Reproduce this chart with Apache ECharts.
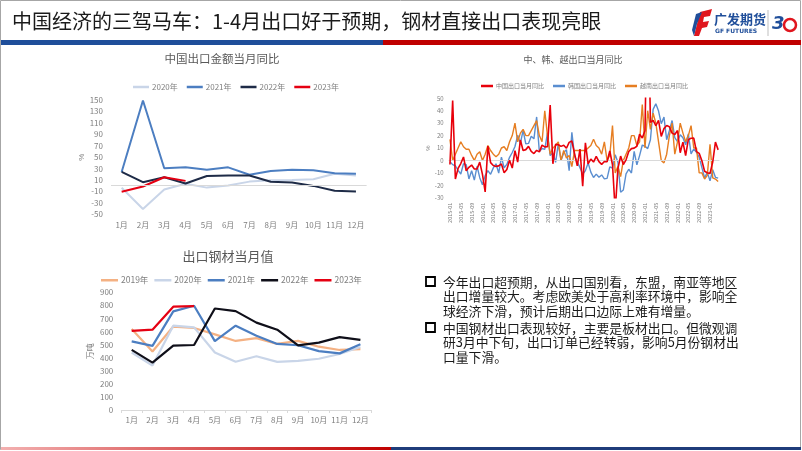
<!DOCTYPE html>
<html><head><meta charset="utf-8">
<script src="https://cdn.jsdelivr.net/npm/echarts@6/dist/echarts.min.js"></script>
<style>html,body{margin:0;padding:0;background:#fff}#c{width:802px;height:451px}</style>
</head><body><div id="c"></div>
<script>
// ---------- Chart 1: 中国出口金额当月同比 ----------
const months = ['1月','2月','3月','4月','5月','6月','7月','8月','9月','10月','11月','12月'];
const exp2020 = [-3.5,-40.6,-6.6,3.5,-3.3,0.5,7.2,9.5,9.9,11.4,21.1,18.1];
const exp2021 = [24.0,149,30.6,32.3,27.9,32.2,19.3,25.6,28.1,27.1,22.0,20.9];
const exp2022 = [24.1,6.2,14.7,3.9,16.9,17.9,18.0,7.1,5.7,-0.3,-8.7,-9.9];
const exp2023 = [-10.5,-1.3,14.8,8.5];

// ---------- Chart 2: 出口钢材当月值 (万吨) ----------
const steel2019 = [619,447,638,627,578,528,550,505,529,484,459,466];
const steel2020 = [440,340,645,632,440,369,411,368,376,392,428,482];
const steel2021 = [525,490,754,797,527,645,567,505,495,450,433,502];
const steel2022 = [460,362,492,497,776,756,668,614,494,515,557,536];
const steel2023 = [605,614,790,794];

// ---------- Chart 3: 中、韩、越出口当月同比 ----------
const ymLabels = [];
for (let y = 2015; y <= 2023; y++) for (let m = 1; m <= 12; m++) {
  if (y === 2023 && m > 4) break;
  ymLabels.push(y + '-' + (m < 10 ? '0' + m : '' + m));
}
const chinaYoY = [
 -3.3,48.3,-15.0,-6.4,-2.5,2.8,-8.3,-5.5,-3.7,-6.9,-6.8,-1.4,
 -11.2,-25.4,11.5,-1.8,-4.1,-4.8,-4.4,-2.8,-10.0,-7.3,0.1,-6.1,
 7.9,-1.3,16.4,8.0,8.7,11.3,7.2,5.5,8.1,6.9,12.3,10.9,
 11.1,44.5,-2.7,12.9,12.6,11.3,12.2,9.8,14.5,15.6,5.4,-4.4,
 9.1,-20.8,14.2,-2.7,1.1,-1.3,3.3,-1.0,-3.2,-0.9,-1.1,7.6,
 -3.5,-40.6,-6.6,3.5,-3.3,0.5,7.2,9.5,9.9,11.4,21.1,18.1,
 24.0,154.9,30.6,32.3,27.9,32.2,19.3,25.6,28.1,27.1,22.0,20.9,
 24.1,6.2,14.7,3.9,16.9,17.9,18.0,7.1,5.7,-0.3,-8.7,-9.9,
 -10.5,-1.3,14.8,8.5];
const koreaYoY = [
 -1.0,-3.4,-4.3,-8.0,-10.9,-2.7,-3.4,-14.9,-8.3,-15.8,-4.7,-13.9,
 -19.6,-12.2,-8.2,-11.2,-6.0,-2.7,-10.2,2.6,-5.9,-3.2,2.5,6.4,
 11.2,20.2,13.7,24.2,13.4,13.7,19.5,17.4,35.0,7.1,9.6,8.9,
 22.2,3.9,6.1,-1.5,13.5,-0.1,6.2,8.7,-8.2,22.7,3.6,-1.2,
 -5.8,-11.1,-8.2,-2.0,-9.4,-13.7,-11.0,-13.6,-11.7,-14.8,-14.4,-5.2,
 -6.1,4.5,-1.4,-25.6,-23.8,-10.9,-7.1,-10.1,7.3,-3.6,3.9,12.4,
 11.4,9.5,16.6,41.1,45.6,39.7,29.6,34.9,16.7,24.0,32.1,18.3,
 15.2,20.6,18.2,12.6,21.3,5.3,9.2,6.6,2.7,-5.8,-14.0,-9.6,
 -16.4,-7.5,-13.6,-14.2];
const vietnamYoY = [
 17,0,5,10,15,11,9,9,4,0,5,7,
 0,5,12,8,5,3,5,10,11,8,15,20,
 30,15,22,25,20,20,24,28,32,20,15,40,
 20,5,10,12,15,0,8,2,4,-5,8,8,
 8,8,8,10,12,17,12,10,5,15,0,4,
 28,-10,-5,-13,0,5,10,20,20,12,15,45,
 10,40,25,38,30,15,0,-2,5,20,30,5,
 15,30,22,15,20,28,10,10,-10,-10,-15,-12,
 13,-14,-15,-17];

const CJK = '"Noto Sans CJK SC","Noto Sans",sans-serif';
const gray = '#7F7F7F';
const c2020 = '#C9D5E8', c2021 = '#4C7EC1', c2022 = '#1E2B47', c2023 = '#E50012', c2019 = '#F4B183';
const c2022b = '#0F0F19';

function lineS(name, data, color, w, xi, yi, extra) {
  return Object.assign({
    name, type: 'line', data, xAxisIndex: xi, yAxisIndex: yi,
    showSymbol: false, symbol: 'none', smooth: false, clip: true,
    lineStyle: { color, width: w }, itemStyle: { color }, z: 3
  }, extra || {});
}
const zeroLine = { silent: true, symbol: 'none', label: { show: false },
  lineStyle: { color: '#D9D9D9', width: 1, type: 'solid' }, data: [{ yAxis: 0 }] };

const chart = echarts.init(document.getElementById('c'), null, { renderer: 'canvas' });

const bodyLines = [
  ['今年出口超预期，从出口国别看，东盟，南亚等地区', 282],
  ['出口增量较大。考虑欧美处于高利率环境中，影响全', 296.5],
  ['球经济下滑，预计后期出口边际上难有增量。', 311],
  ['中国钢材出口表现较好，主要是板材出口。但微观调', 328],
  ['研3月中下旬，出口订单已经转弱，影响5月份钢材出', 342.5],
  ['口量下滑。', 357]
];

const graphics = [
  { type: 'rect', shape: { x: 0.5, y: 0.5, width: 800, height: 449 }, style: { fill: '#fff', stroke: '#A6A6A6', lineWidth: 1 }, z: -10 },
  { type: 'rect', shape: { x: 1, y: 40, width: 382, height: 5 }, style: { fill: '#1F4E9A' } },
  { type: 'rect', shape: { x: 383, y: 40, width: 418, height: 5 }, style: { fill: '#C00000' } },
  { type: 'rect', shape: { x: 1, y: 447, width: 390, height: 3 }, style: { fill: new echarts.graphic.LinearGradient(0,0,1,0,[{offset:0,color:'#F3B0B0'},{offset:1,color:'#C00000'}]) } },
  { type: 'rect', shape: { x: 391, y: 447, width: 410, height: 3 }, style: { fill: '#1F3C7A' } },
  { type: 'text', x: 12, y: 21, style: { text: '中国经济的三驾马车：1-4月出口好于预期，钢材直接出口表现亮眼', font: '20px ' + CJK, fill: '#1A1A1A', textVerticalAlign: 'middle' } },
  // logo
  { type: 'polygon', shape: { points: [[700,12],[712,9],[710,16],[704,17],[703,22],[709,21],[707,27],[702,28],[699,36],[694,36]] }, style: { fill: '#E0161E' } },
  { type: 'polygon', shape: { points: [[702,12],[696,14],[692,30],[694,36],[697,24]] }, style: { fill: '#1F4E9A' } },
  { type: 'text', x: 714, y: 19, style: { text: '广发期货', font: 'bold 13px ' + CJK, fill: '#1F4E9A', textVerticalAlign: 'middle' } },
  { type: 'text', x: 715, y: 31, style: { text: 'GF FUTURES', font: 'bold 6px "DejaVu Sans"', fill: '#1F4E9A', textVerticalAlign: 'middle' } },
  { type: 'line', shape: { x1: 768, y1: 10, x2: 768, y2: 36 }, style: { stroke: '#BFBFBF', lineWidth: 1 } },
  { type: 'text', x: 772, y: 24, style: { text: '3', font: 'italic bold 18px "DejaVu Sans"', fill: '#1F4E9A', textVerticalAlign: 'middle' } },
  { type: 'circle', shape: { cx: 790, cy: 25, r: 6 }, style: { fill: 'none', stroke: '#E0161E', lineWidth: 2.5 } },
  // chart titles
  { type: 'text', x: 222, y: 59, style: { text: '中国出口金额当月同比', font: '11.5px ' + CJK, fill: '#595959', textAlign: 'center', textVerticalAlign: 'middle' } },
  { type: 'text', x: 573, y: 60, style: { text: '中、韩、越出口当月同比', font: '9px ' + CJK, fill: '#595959', textAlign: 'center', textVerticalAlign: 'middle' } },
  { type: 'text', x: 228, y: 256, style: { text: '出口钢材当月值', font: '13px ' + CJK, fill: '#595959', textAlign: 'center', textVerticalAlign: 'middle' } },
  // bullets
  { type: 'rect', shape: { x: 426, y: 277, width: 9, height: 9 }, style: { fill: 'none', stroke: '#000', lineWidth: 1.8 } },
  { type: 'rect', shape: { x: 426, y: 323, width: 9, height: 9 }, style: { fill: 'none', stroke: '#000', lineWidth: 1.8 } }
];
bodyLines.forEach(([t, y]) => graphics.push({ type: 'text', x: 443, y, style: { text: t, font: '12.8px ' + CJK, fill: '#1A1A1A', textVerticalAlign: 'middle' } }));

const axLab = (fs) => ({ color: gray, fontSize: fs, fontFamily: CJK });

const option = {
  animation: false,
  backgroundColor: '#fff',
  graphic: graphics,
  grid: [
    { left: 111, top: 100, width: 255.6, height: 114.3 },
    { left: 121.3, top: 292.3, width: 249.5, height: 117.7 },
    { left: 448.6, top: 98.3, width: 270.9, height: 99.4 }
  ],
  xAxis: [
    { type: 'category', gridIndex: 0, data: months, boundaryGap: true,
      axisLine: { show: false }, axisTick: { show: false }, axisLabel: Object.assign(axLab(8), { margin: 7, interval: 0 }) },
    { type: 'category', gridIndex: 1, data: months, boundaryGap: true,
      axisLine: { show: true, lineStyle: { color: '#D9D9D9' } }, axisTick: { show: true, length: 3, lineStyle: { color: '#D9D9D9' } },
      axisLabel: Object.assign(axLab(8), { margin: 6, interval: 0 }) },
    { type: 'category', gridIndex: 2, data: ymLabels, boundaryGap: true,
      axisLine: { show: false }, axisTick: { show: false },
      axisLabel: Object.assign(axLab(5.5), { interval: 3, rotate: 90, margin: 5 }) }
  ],
  yAxis: [
    { type: 'value', gridIndex: 0, min: -50, max: 150, interval: 20, splitLine: { show: false },
      axisLine: { show: false }, axisTick: { show: false }, axisLabel: Object.assign(axLab(8), { margin: 8 }),
      name: '%', nameLocation: 'middle', nameGap: 22, nameRotate: 90, nameTextStyle: { color: gray, fontSize: 8 } },
    { type: 'value', gridIndex: 1, min: 0, max: 900, interval: 100, splitLine: { show: false },
      axisLine: { show: false }, axisTick: { show: false }, axisLabel: Object.assign(axLab(8), { margin: 8 }),
      name: '万吨', nameLocation: 'middle', nameGap: 27, nameRotate: 90, nameTextStyle: { color: gray, fontSize: 8, fontFamily: CJK } },
    { type: 'value', gridIndex: 2, min: -30, max: 50, interval: 10, splitLine: { show: false },
      axisLine: { show: false }, axisTick: { show: false }, axisLabel: Object.assign(axLab(6), { margin: 5 }),
      name: '%', nameLocation: 'middle', nameGap: 17, nameRotate: 90, nameTextStyle: { color: gray, fontSize: 6 } }
  ],
  legend: [
    { left: 128, top: 78, itemWidth: 16, itemHeight: 2.5, itemGap: 9, icon: 'rect',
      textStyle: { color: gray, fontSize: 8, fontFamily: CJK, padding: [0,0,0,-2] },
      data: ['2020年','2021年','2022年','2023年'] },
    { left: 96, top: 271, itemWidth: 17, itemHeight: 2.5, itemGap: 6, icon: 'rect',
      textStyle: { color: gray, fontSize: 8.5, fontFamily: CJK, padding: [0,0,0,-2] },
      formatter: n => n.replace('钢', ''),
      data: ['钢2019年','钢2020年','钢2021年','钢2022年','钢2023年'] },
    { left: 476, top: 78, itemWidth: 12, itemHeight: 2.5, itemGap: 9, icon: 'rect',
      textStyle: { color: gray, fontSize: 6, fontFamily: CJK, padding: [0,0,0,-2] },
      data: ['中国出口当月同比','韩国出口当月同比','越南出口当月同比'] }
  ],
  series: [
    lineS('2020年', exp2020, c2020, 2, 0, 0, { markLine: zeroLine, z: 2 }),
    lineS('2021年', exp2021, c2021, 2, 0, 0),
    lineS('2022年', exp2022, c2022, 2, 0, 0),
    lineS('2023年', exp2023, c2023, 2, 0, 0),

    lineS('钢2019年', steel2019, c2019, 2.2, 1, 1),
    lineS('钢2020年', steel2020, c2020, 2.2, 1, 1),
    lineS('钢2021年', steel2021, c2021, 2.2, 1, 1),
    lineS('钢2022年', steel2022, c2022b, 2.2, 1, 1),
    lineS('钢2023年', steel2023, c2023, 2.2, 1, 1),

    lineS('中国出口当月同比', chinaYoY, '#E8000B', 1.6, 2, 2, { markLine: zeroLine, z: 5 }),
    lineS('韩国出口当月同比', koreaYoY, '#5A8ED0', 1.4, 2, 2, { z: 3 }),
    lineS('越南出口当月同比', vietnamYoY, '#E67E22', 1.4, 2, 2, { z: 4 })
  ]
};
chart.setOption(option);
</script></body></html>
